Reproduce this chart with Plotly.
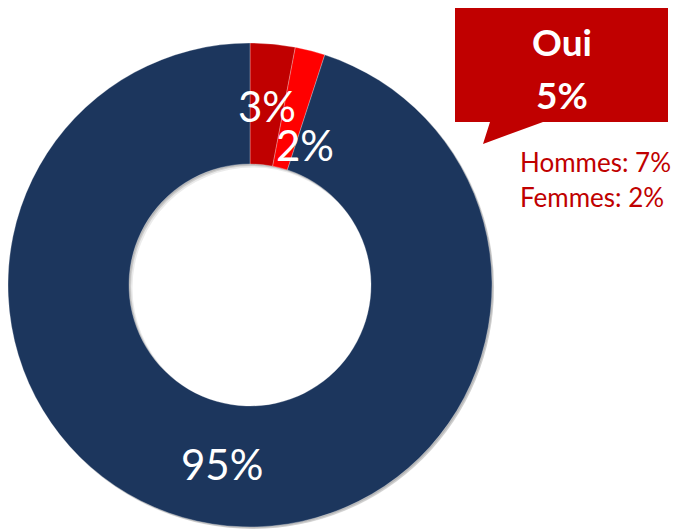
import math
import plotly.graph_objects as go

# ---- data ----
categories = ["Oui, souvent", "Oui, parfois", "Non"]
values = [3, 2, 95]
labels_text = ["3%", "2%", "95%"]
callout_title = "Oui"
callout_value = "5%"
detail_lines = ["Hommes: 7%", "Femmes: 2%"]

# ---- styling / layout ----
W, H = 679, 529
colors = ["#C00000", "#FF0000", "#1C365D"]
CX, CY, R_OUT = 250, 285, 242
HOLE = 0.5
label_nudge = [(0, 2), (10, 36), (0, 0)]
FONT = "Lato"


def px(x):
    return x / W


def py(y):
    return 1 - y / H


def dom(dx=0, dy=0, dr=0):
    r = R_OUT + dr
    return dict(x=[max(0, px(CX - r + dx)), min(1, px(CX + r + dx))],
                y=[max(0, py(CY + r + dy)), min(1, py(CY - r + dy))])


fig = go.Figure()
# soft shadow layers (same ring, offset)
for (dx, dy, dr, a) in [(3, 3, -1, 0.08), (2, 2, 0, 0.12), (1, 1, 0, 0.12)]:
    fig.add_trace(go.Pie(
        values=[sum(values)], sort=False, hole=HOLE,
        marker=dict(colors=[f"rgba(0,0,0,{a})"], line=dict(width=0)),
        textinfo="none", hoverinfo="skip", showlegend=False,
        domain=dom(dx, dy, dr),
    ))

fig.add_trace(go.Pie(
    labels=categories,
    values=values,
    sort=False,
    direction="clockwise",
    rotation=0,
    hole=HOLE,
    marker=dict(colors=colors, line=dict(color="rgba(255,255,255,0.35)", width=0.8)),
    textinfo="none",
    hoverinfo="label+percent",
    showlegend=False,
    domain=dom(),
))

# labels computed from the data (slice mid-angles)
total = sum(values)
r_lab = R_OUT * (1 + HOLE) / 2
cum = 0
annotations = []
for v, t, (dx, dy) in zip(values, labels_text, label_nudge):
    mid = (cum + v / 2) / total * 2 * math.pi
    cum += v
    x = CX + r_lab * math.sin(mid) + dx
    y = CY - r_lab * math.cos(mid) + dy
    annotations.append(dict(
        x=px(x), y=py(y), xref="paper", yref="paper", text=t, showarrow=False,
        xanchor="center", yanchor="middle",
        font=dict(family=FONT, size=42, color="white"),
    ))

# callout box
box_l, box_r, box_t, box_b = 455, 668, 8, 122
tip = (483, 144)
pt_a, pt_b = 490, 543
path = (f"M {px(box_l)},{py(box_t)} L {px(box_r)},{py(box_t)} L {px(box_r)},{py(box_b)} "
        f"L {px(pt_b)},{py(box_b)} L {px(tip[0])},{py(tip[1])} L {px(pt_a)},{py(box_b)} "
        f"L {px(box_l)},{py(box_b)} Z")
shapes = [dict(type="path", xref="paper", yref="paper", path=path,
               fillcolor="#C00000", line=dict(width=0))]

annotations.append(dict(x=px(562), y=py(42), xref="paper", yref="paper", text=f"<b>{callout_title}</b>",
                        showarrow=False, xanchor="center", yanchor="middle",
                        font=dict(family=FONT, size=37, color="white")))
annotations.append(dict(x=px(562), y=py(94), xref="paper", yref="paper", text=f"<b>{callout_value}</b>",
                        showarrow=False, xanchor="center", yanchor="middle",
                        font=dict(family=FONT, size=37, color="white")))
for i, line in enumerate(detail_lines):
    annotations.append(dict(x=px(518), y=py(162 + 35 * i), xref="paper", yref="paper", text=line,
                            showarrow=False, xanchor="left", yanchor="middle",
                            font=dict(family=FONT, size=26, color="#C00000")))

fig.update_layout(
    width=W, height=H,
    margin=dict(l=0, r=0, t=0, b=0),
    paper_bgcolor="white", plot_bgcolor="white",
    shapes=shapes, annotations=annotations,
)

fig.write_html("out.html", config={"displayModeBar": False},
               post_script="document.body.style.margin='0';")
